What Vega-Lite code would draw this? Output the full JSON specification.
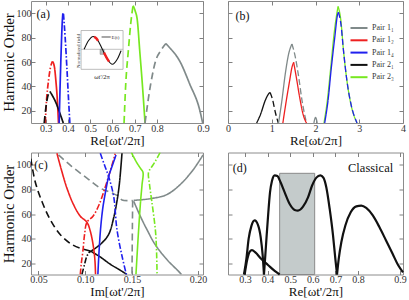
{
"$schema":"https://vega.github.io/schema/vega-lite/v6.json",
"padding":0,
"background":"white",
"config":{
 "view":{"stroke":"#8c8c8c","strokeWidth":1},
 "font":"Liberation Serif",
 "axis":{"grid":false,"domain":false,"tickColor":"#808080","tickSize":-4,"tickWidth":1,"labelPadding":4,"labelFont":"Liberation Serif","labelFontSize":10,"labelColor":"#333333","titleFont":"Liberation Serif","titleFontSize":13,"titleFontWeight":"normal","titleColor":"#111111","labelFlush":false,"labelOverlap":false},
 "axisX":{"titlePadding":1},
 "axisY":{"titlePadding":0,"titleFontSize":15},
 "text":{"font":"Liberation Serif"}
},
"datasets":{
"a":[
{"s":"r1","p":"Pair 1₂","d":"dashdot","x":0.298,"y":10},{"s":"r1","p":"Pair 1₂","d":"dashdot","x":0.3036,"y":28.2},{"s":"r1","p":"Pair 1₂","d":"dashdot","x":0.3126,"y":44.7},{"s":"r1","p":"Pair 1₂","d":"dashdot","x":0.3215,"y":55.6},{"s":"r1","p":"Pair 1₂","d":"dashdot","x":0.3305,"y":60.5},
{"s":"r2","p":"Pair 1₂","d":"solid","x":0.3305,"y":60.5},{"s":"r2","p":"Pair 1₂","d":"solid","x":0.3395,"y":55.6},{"s":"r2","p":"Pair 1₂","d":"solid","x":0.3457,"y":44.7},{"s":"r2","p":"Pair 1₂","d":"solid","x":0.3516,"y":30.9},{"s":"r2","p":"Pair 1₂","d":"solid","x":0.3574,"y":10},
{"s":"k1","p":"Pair 2₁","d":"dash","x":0.2933,"y":10},{"s":"k1","p":"Pair 2₁","d":"dash","x":0.3009,"y":22.7},{"s":"k1","p":"Pair 2₁","d":"dash","x":0.3081,"y":30.9},{"s":"k1","p":"Pair 2₁","d":"dash","x":0.3188,"y":35.9},
{"s":"k2","p":"Pair 2₁","d":"solid","x":0.3188,"y":35.9},{"s":"k2","p":"Pair 2₁","d":"solid","x":0.3305,"y":32.3},{"s":"k2","p":"Pair 2₁","d":"solid","x":0.3457,"y":26.8},{"s":"k2","p":"Pair 2₁","d":"solid","x":0.3625,"y":18.6},{"s":"k2","p":"Pair 2₁","d":"solid","x":0.379,"y":10},
{"s":"b1","p":"Pair 1₄","d":"solid","x":0.3605,"y":10},{"s":"b1","p":"Pair 1₄","d":"solid","x":0.365,"y":42},{"s":"b1","p":"Pair 1₄","d":"solid","x":0.3695,"y":69.3},{"s":"b1","p":"Pair 1₄","d":"solid","x":0.374,"y":91.3},{"s":"b1","p":"Pair 1₄","d":"solid","x":0.3771,"y":100},
{"s":"b2","p":"Pair 1₄","d":"dashdot","x":0.3798,"y":99.5},{"s":"b2","p":"Pair 1₄","d":"dashdot","x":0.3874,"y":80.3},{"s":"b2","p":"Pair 1₄","d":"dashdot","x":0.3951,"y":55.6},{"s":"b2","p":"Pair 1₄","d":"dashdot","x":0.4022,"y":30.9},{"s":"b2","p":"Pair 1₄","d":"dashdot","x":0.4085,"y":10},
{"s":"g1","p":"Pair 2₃","d":"dash","x":0.652,"y":10},{"s":"g1","p":"Pair 2₃","d":"dash","x":0.6596,"y":42},{"s":"g1","p":"Pair 2₃","d":"dash","x":0.6713,"y":69.3},{"s":"g1","p":"Pair 2₃","d":"dash","x":0.682,"y":91.5},{"s":"g1","p":"Pair 2₃","d":"dash","x":0.6924,"y":106.3},
{"s":"g2","p":"Pair 2₃","d":"solid","x":0.6924,"y":106.3},{"s":"g2","p":"Pair 2₃","d":"solid","x":0.7013,"y":102.2},{"s":"g2","p":"Pair 2₃","d":"solid","x":0.7117,"y":94},{"s":"g2","p":"Pair 2₃","d":"solid","x":0.7224,"y":69.3},{"s":"g2","p":"Pair 2₃","d":"solid","x":0.7341,"y":42},{"s":"g2","p":"Pair 2₃","d":"solid","x":0.7462,"y":10},
{"s":"e1","p":"Pair 1₁","d":"dash","x":0.7462,"y":10},{"s":"e1","p":"Pair 1₁","d":"dash","x":0.7717,"y":42},{"s":"e1","p":"Pair 1₁","d":"dash","x":0.7942,"y":61.1},{"s":"e1","p":"Pair 1₁","d":"dash","x":0.8082,"y":69.3},{"s":"e1","p":"Pair 1₁","d":"dash","x":0.8193,"y":75.1},
{"s":"e2","p":"Pair 1₁","d":"solid","x":0.8193,"y":75.1},{"s":"e2","p":"Pair 1₁","d":"solid","x":0.8267,"y":72.1},{"s":"e2","p":"Pair 1₁","d":"solid","x":0.8489,"y":61.1},{"s":"e2","p":"Pair 1₁","d":"solid","x":0.8711,"y":42},{"s":"e2","p":"Pair 1₁","d":"solid","x":0.8933,"y":20},{"s":"e2","p":"Pair 1₁","d":"solid","x":0.8993,"y":10}
],
"inset":[{"x":0.4726,"y":70.4},{"x":0.4928,"y":77.6},{"x":0.513,"y":80.9},{"x":0.5332,"y":78},{"x":0.5547,"y":70.4},{"x":0.5758,"y":62.8},{"x":0.5996,"y":58.1},{"x":0.6206,"y":62},{"x":0.6386,"y":69.3}],
"insetRed":[{"s":"h1","x":0.5175,"y":80.6},{"s":"h1","x":0.5265,"y":79.5},{"s":"h1","x":0.5354,"y":77.3},{"s":"h2","x":0.5623,"y":67.7},{"s":"h2","x":0.5735,"y":63.6},{"s":"h2","x":0.5848,"y":60.3}],
"b":[
{"s":"k1","p":"Pair 2₁","d":"solid","x":0.654,"y":10},{"s":"k1","p":"Pair 2₁","d":"solid","x":0.746,"y":17.3},{"s":"k1","p":"Pair 2₁","d":"solid","x":0.848,"y":28.2},{"s":"k1","p":"Pair 2₁","d":"solid","x":0.924,"y":33.7},{"s":"k1","p":"Pair 2₁","d":"solid","x":0.963,"y":35},
{"s":"k2","p":"Pair 2₁","d":"dash","x":0.963,"y":35},{"s":"k2","p":"Pair 2₁","d":"dash","x":1.02,"y":29},{"s":"k2","p":"Pair 2₁","d":"dash","x":1.08,"y":19},{"s":"k2","p":"Pair 2₁","d":"dash","x":1.15,"y":10},
{"s":"e1","p":"Pair 1₁","d":"solid","x":1.155,"y":10},{"s":"e1","p":"Pair 1₁","d":"solid","x":1.231,"y":28.2},{"s":"e1","p":"Pair 1₁","d":"solid","x":1.309,"y":50.2},{"s":"e1","p":"Pair 1₁","d":"solid","x":1.386,"y":66.6},{"s":"e1","p":"Pair 1₁","d":"solid","x":1.462,"y":74.8},
{"s":"e2","p":"Pair 1₁","d":"dash","x":1.462,"y":74.8},{"s":"e2","p":"Pair 1₁","d":"dash","x":1.54,"y":63.8},{"s":"e2","p":"Pair 1₁","d":"dash","x":1.617,"y":47.4},{"s":"e2","p":"Pair 1₁","d":"dash","x":1.693,"y":28.2},{"s":"e2","p":"Pair 1₁","d":"dash","x":1.794,"y":10},
{"s":"e3","p":"Pair 1₁","d":"solid","x":1.963,"y":10},{"s":"e3","p":"Pair 1₁","d":"solid","x":2.002,"y":14.5},{"s":"e3","p":"Pair 1₁","d":"solid","x":2.04,"y":10},
{"s":"r1","p":"Pair 1₂","d":"solid","x":1.254,"y":10},{"s":"r1","p":"Pair 1₂","d":"solid","x":1.332,"y":28.2},{"s":"r1","p":"Pair 1₂","d":"solid","x":1.409,"y":44.7},{"s":"r1","p":"Pair 1₂","d":"solid","x":1.462,"y":55.6},{"s":"r1","p":"Pair 1₂","d":"solid","x":1.501,"y":59.7},
{"s":"r2","p":"Pair 1₂","d":"solid","x":1.501,"y":59.7},{"s":"r2","p":"Pair 1₂","d":"solid","x":1.562,"y":47.4},{"s":"r2","p":"Pair 1₂","d":"solid","x":1.639,"y":30.9},{"s":"r2","p":"Pair 1₂","d":"solid","x":1.715,"y":17.3},{"s":"r2","p":"Pair 1₂","d":"solid","x":1.794,"y":10},
{"s":"g1","p":"Pair 2₃","d":"solid","x":2.194,"y":10},{"s":"g1","p":"Pair 2₃","d":"solid","x":2.27,"y":28.2},{"s":"g1","p":"Pair 2₃","d":"solid","x":2.349,"y":55.6},{"s":"g1","p":"Pair 2₃","d":"solid","x":2.425,"y":83.1},{"s":"g1","p":"Pair 2₃","d":"solid","x":2.487,"y":99.5},{"s":"g1","p":"Pair 2₃","d":"solid","x":2.517,"y":105.5},
{"s":"g2","p":"Pair 2₃","d":"solid","x":2.517,"y":105.5},{"s":"g2","p":"Pair 2₃","d":"solid","x":2.58,"y":94},{"s":"g2","p":"Pair 2₃","d":"solid","x":2.64,"y":69.3},{"s":"g2","p":"Pair 2₃","d":"solid","x":2.725,"y":43},{"s":"g2","p":"Pair 2₃","d":"solid","x":2.818,"y":24},{"s":"g2","p":"Pair 2₃","d":"solid","x":2.949,"y":10},
{"s":"b1","p":"Pair 1₄","d":"solid","x":2.21,"y":10},{"s":"b1","p":"Pair 1₄","d":"solid","x":2.286,"y":28.2},{"s":"b1","p":"Pair 1₄","d":"solid","x":2.363,"y":55.6},{"s":"b1","p":"Pair 1₄","d":"solid","x":2.441,"y":80.3},{"s":"b1","p":"Pair 1₄","d":"solid","x":2.501,"y":98.2},{"s":"b1","p":"Pair 1₄","d":"solid","x":2.524,"y":100.8},
{"s":"b2","p":"Pair 1₄","d":"dash","x":2.524,"y":100.8},{"s":"b2","p":"Pair 1₄","d":"dash","x":2.58,"y":91.3},{"s":"b2","p":"Pair 1₄","d":"dash","x":2.64,"y":69.3},{"s":"b2","p":"Pair 1₄","d":"dash","x":2.718,"y":44.7},{"s":"b2","p":"Pair 1₄","d":"dash","x":2.811,"y":25.5},{"s":"b2","p":"Pair 1₄","d":"dash","x":2.949,"y":10}
],
"c":[
{"s":"e1","p":"Pair 1₁","d":"dash","x":0.0714,"y":108},{"s":"e1","p":"Pair 1₁","d":"dash","x":0.0857,"y":98.6},{"s":"e1","p":"Pair 1₁","d":"dash","x":0.1018,"y":89.2},{"s":"e1","p":"Pair 1₁","d":"dash","x":0.1161,"y":81.1},{"s":"e1","p":"Pair 1₁","d":"dash","x":0.1286,"y":77.1},{"s":"e1","p":"Pair 1₁","d":"dash","x":0.1357,"y":74.4},{"s":"e1","p":"Pair 1₁","d":"dash","x":0.1393,"y":71.5},{"s":"e1","p":"Pair 1₁","d":"dash","x":0.1505,"y":71},
{"s":"e2","p":"Pair 1₁","d":"dash","x":0.1505,"y":71},{"s":"e2","p":"Pair 1₁","d":"dash","x":0.1503,"y":50},{"s":"e2","p":"Pair 1₁","d":"dash","x":0.15,"y":11},
{"s":"e3","p":"Pair 1₁","d":"solid","x":0.1513,"y":71.2},{"s":"e3","p":"Pair 1₁","d":"solid","x":0.1638,"y":72.5},{"s":"e3","p":"Pair 1₁","d":"solid","x":0.1763,"y":75.8},{"s":"e3","p":"Pair 1₁","d":"solid","x":0.1863,"y":83.8},{"s":"e3","p":"Pair 1₁","d":"solid","x":0.1963,"y":95.9},{"s":"e3","p":"Pair 1₁","d":"solid","x":0.2038,"y":108},
{"s":"e4","p":"Pair 1₁","d":"solid","x":0.1513,"y":70.4},{"s":"e4","p":"Pair 1₁","d":"solid","x":0.1563,"y":58.3},{"s":"e4","p":"Pair 1₁","d":"solid","x":0.1613,"y":47.5},{"s":"e4","p":"Pair 1₁","d":"solid","x":0.1675,"y":35.4},{"s":"e4","p":"Pair 1₁","d":"solid","x":0.1763,"y":23.3},{"s":"e4","p":"Pair 1₁","d":"solid","x":0.185,"y":13.9},{"s":"e4","p":"Pair 1₁","d":"solid","x":0.1875,"y":11},
{"s":"k1","p":"Pair 2₁","d":"dash","x":0.0418,"y":105},{"s":"k1","p":"Pair 2₁","d":"dash","x":0.0464,"y":86.5},{"s":"k1","p":"Pair 2₁","d":"dash","x":0.0536,"y":70.4},{"s":"k1","p":"Pair 2₁","d":"dash","x":0.0625,"y":55.6},{"s":"k1","p":"Pair 2₁","d":"dash","x":0.0732,"y":43.5},{"s":"k1","p":"Pair 2₁","d":"dash","x":0.0857,"y":35.4},{"s":"k1","p":"Pair 2₁","d":"dash","x":0.0982,"y":31.4},{"s":"k1","p":"Pair 2₁","d":"dash","x":0.1054,"y":30.1},
{"s":"k2","p":"Pair 2₁","d":"solid","x":0.1054,"y":30.1},{"s":"k2","p":"Pair 2₁","d":"solid","x":0.1161,"y":25.2},{"s":"k2","p":"Pair 2₁","d":"solid","x":0.1268,"y":19.3},{"s":"k2","p":"Pair 2₁","d":"solid","x":0.1357,"y":15.3},{"s":"k2","p":"Pair 2₁","d":"solid","x":0.1445,"y":11},
{"s":"k3","p":"Pair 2₁","d":"solid","x":0.1036,"y":28.7},{"s":"k3","p":"Pair 2₁","d":"solid","x":0.1161,"y":35.4},{"s":"k3","p":"Pair 2₁","d":"solid","x":0.125,"y":43.5},{"s":"k3","p":"Pair 2₁","d":"solid","x":0.1304,"y":57},{"s":"k3","p":"Pair 2₁","d":"solid","x":0.1339,"y":70.4},{"s":"k3","p":"Pair 2₁","d":"solid","x":0.1364,"y":83.8},{"s":"k3","p":"Pair 2₁","d":"solid","x":0.1393,"y":109.4},
{"s":"k4","p":"Pair 2₁","d":"dashdot","x":0.0964,"y":11},{"s":"k4","p":"Pair 2₁","d":"dashdot","x":0.0993,"y":19.3},{"s":"k4","p":"Pair 2₁","d":"dashdot","x":0.1018,"y":26},{"s":"k4","p":"Pair 2₁","d":"dashdot","x":0.1054,"y":30.1},
{"s":"r1","p":"Pair 1₂","d":"solid","x":0.0697,"y":109.4},{"s":"r1","p":"Pair 1₂","d":"solid","x":0.075,"y":94.6},{"s":"r1","p":"Pair 1₂","d":"solid","x":0.0804,"y":81.1},{"s":"r1","p":"Pair 1₂","d":"solid","x":0.0875,"y":67.7},{"s":"r1","p":"Pair 1₂","d":"solid","x":0.0947,"y":58.3},{"s":"r1","p":"Pair 1₂","d":"solid","x":0.1018,"y":53.4},{"s":"r1","p":"Pair 1₂","d":"solid","x":0.1054,"y":46.2},{"s":"r1","p":"Pair 1₂","d":"solid","x":0.1089,"y":32.7},{"s":"r1","p":"Pair 1₂","d":"solid","x":0.1104,"y":22},{"s":"r1","p":"Pair 1₂","d":"solid","x":0.111,"y":11},
{"s":"r2","p":"Pair 1₂","d":"dashdot","x":0.0947,"y":11},{"s":"r2","p":"Pair 1₂","d":"dashdot","x":0.0957,"y":19.3},{"s":"r2","p":"Pair 1₂","d":"dashdot","x":0.0975,"y":30.1},{"s":"r2","p":"Pair 1₂","d":"dashdot","x":0.0993,"y":43.5},{"s":"r2","p":"Pair 1₂","d":"dashdot","x":0.1018,"y":53.4},{"s":"r2","p":"Pair 1₂","d":"dashdot","x":0.1085,"y":58.5},{"s":"r2","p":"Pair 1₂","d":"dashdot","x":0.115,"y":68},{"s":"r2","p":"Pair 1₂","d":"dashdot","x":0.121,"y":81},{"s":"r2","p":"Pair 1₂","d":"dashdot","x":0.1255,"y":92},{"s":"r2","p":"Pair 1₂","d":"dashdot","x":0.1292,"y":101.3},{"s":"r2","p":"Pair 1₂","d":"dashdot","x":0.132,"y":109},
{"s":"b1","p":"Pair 1₄","d":"solid","x":0.1135,"y":11},{"s":"b1","p":"Pair 1₄","d":"solid","x":0.1148,"y":30.1},{"s":"b1","p":"Pair 1₄","d":"solid","x":0.1165,"y":48.9},{"s":"b1","p":"Pair 1₄","d":"solid","x":0.1188,"y":65},{"s":"b1","p":"Pair 1₄","d":"solid","x":0.1221,"y":79.8},{"s":"b1","p":"Pair 1₄","d":"solid","x":0.125,"y":90.5},{"s":"b1","p":"Pair 1₄","d":"solid","x":0.1286,"y":98.6},{"s":"b1","p":"Pair 1₄","d":"solid","x":0.1329,"y":108},
{"s":"b2","p":"Pair 1₄","d":"dashdot","x":0.1161,"y":109.4},{"s":"b2","p":"Pair 1₄","d":"dashdot","x":0.1205,"y":100},{"s":"b2","p":"Pair 1₄","d":"dashdot","x":0.125,"y":90.5},{"s":"b2","p":"Pair 1₄","d":"dashdot","x":0.1304,"y":74.4},{"s":"b2","p":"Pair 1₄","d":"dashdot","x":0.1339,"y":47.5},{"s":"b2","p":"Pair 1₄","d":"dashdot","x":0.1393,"y":26},{"s":"b2","p":"Pair 1₄","d":"dashdot","x":0.144,"y":11},
{"s":"g1","p":"Pair 2₃","d":"solid","x":0.1493,"y":110},{"s":"g1","p":"Pair 2₃","d":"solid","x":0.1535,"y":102},{"s":"g1","p":"Pair 2₃","d":"solid","x":0.1565,"y":97},{"s":"g1","p":"Pair 2₃","d":"solid","x":0.1583,"y":94},{"s":"g1","p":"Pair 2₃","d":"solid","x":0.1576,"y":83.8},{"s":"g1","p":"Pair 2₃","d":"solid","x":0.1565,"y":70.4},{"s":"g1","p":"Pair 2₃","d":"solid","x":0.1548,"y":43.5},{"s":"g1","p":"Pair 2₃","d":"solid","x":0.153,"y":11},
{"s":"g2","p":"Pair 2₃","d":"dashdot","x":0.1713,"y":110},{"s":"g2","p":"Pair 2₃","d":"dashdot","x":0.1675,"y":102.6},{"s":"g2","p":"Pair 2₃","d":"dashdot","x":0.1643,"y":97.3},{"s":"g2","p":"Pair 2₃","d":"dashdot","x":0.1625,"y":94},{"s":"g2","p":"Pair 2₃","d":"dashdot","x":0.1633,"y":83.8},{"s":"g2","p":"Pair 2₃","d":"dashdot","x":0.165,"y":70.4},{"s":"g2","p":"Pair 2₃","d":"dashdot","x":0.168,"y":43.5},{"s":"g2","p":"Pair 2₃","d":"dashdot","x":0.169,"y":11}
],
"d":[
{"s":"L1","x":0.2956,"y":11},{"s":"L1","x":0.3062,"y":23.5},{"s":"L1","x":0.3164,"y":40.1},{"s":"L1","x":0.3283,"y":50.3},{"s":"L1","x":0.3429,"y":54.9},{"s":"L1","x":0.3575,"y":51.3},{"s":"L1","x":0.3695,"y":41.4},{"s":"L1","x":0.3783,"y":26.7},{"s":"L1","x":0.3841,"y":11},
{"s":"L2","x":0.2987,"y":11},{"s":"L2","x":0.3106,"y":23.5},{"s":"L2","x":0.3208,"y":29.4},{"s":"L2","x":0.331,"y":30.7},{"s":"L2","x":0.346,"y":28.9},{"s":"L2","x":0.3726,"y":23.5},{"s":"L2","x":0.4018,"y":18.7},{"s":"L2","x":0.4314,"y":13.9},{"s":"L2","x":0.4535,"y":11},
{"s":"M","x":0.3841,"y":11},{"s":"M","x":0.3901,"y":26.7},{"s":"M","x":0.396,"y":42.8},{"s":"M","x":0.4034,"y":61.5},{"s":"M","x":0.4108,"y":77.6},{"s":"M","x":0.4196,"y":87},{"s":"M","x":0.4314,"y":91.5},{"s":"M","x":0.4432,"y":91},{"s":"M","x":0.458,"y":85.6},{"s":"M","x":0.4757,"y":77.6},{"s":"M","x":0.4978,"y":68.2},{"s":"M","x":0.5199,"y":63.4},{"s":"M","x":0.5346,"y":62.9},{"s":"M","x":0.5568,"y":66.1},{"s":"M","x":0.5789,"y":73.6},{"s":"M","x":0.5966,"y":83},{"s":"M","x":0.6158,"y":89.6},{"s":"M","x":0.6335,"y":91.5},{"s":"M","x":0.6468,"y":89.6},{"s":"M","x":0.66,"y":81.6},{"s":"M","x":0.6748,"y":64.2},{"s":"M","x":0.6895,"y":42.8},{"s":"M","x":0.6999,"y":23.5},{"s":"M","x":0.7072,"y":11},
{"s":"R","x":0.7072,"y":11},{"s":"R","x":0.7146,"y":23.5},{"s":"R","x":0.7264,"y":37.4},{"s":"R","x":0.7441,"y":50.8},{"s":"R","x":0.7677,"y":61.5},{"s":"R","x":0.7928,"y":66.3},{"s":"R","x":0.8079,"y":66.9},{"s":"R","x":0.8196,"y":65},{"s":"R","x":0.8352,"y":58.9},{"s":"R","x":0.8508,"y":49.5},{"s":"R","x":0.8664,"y":38.8},{"s":"R","x":0.882,"y":28},{"s":"R","x":0.8953,"y":18.7},{"s":"R","x":0.907,"y":12.8}
]
},
"resolve":{"scale":{"color":"independent","strokeDash":"independent"}},
"bounds":"flush",
"columns":2,
"spacing":{"row":29.5,"column":25},
"concat":[
 {"width":172,"height":122,
  "resolve":{"axis":{"x":"independent","y":"independent"}},
  "layer":[
    {"data":{"name":"a"},"transform":[{"window":[{"op":"row_number","as":"o"}]}],
     "mark":{"type":"line","strokeWidth":1.7,"interpolate":"monotone"},
     "encoding":{
      "x":{"field":"x","type":"quantitative","scale":{"domain":[0.234,0.8,0.9],"range":[0,126,172],"nice":false,"zero":false},"axis":{"title":"Re[ωt'/2π]","values":[0.3,0.4,0.5,0.6,0.7,0.8,0.9],"format":".1f","labelOverlap":false}},
      "y":{"field":"y","type":"quantitative","scale":{"domain":[10,110],"nice":false,"zero":false},"axis":{"title":"Harmonic Order","values":[20,40,60,80,100],"labelOverlap":false}},
      "color":{"field":"p","type":"nominal","scale":{"domain":["Pair 1₁","Pair 1₂","Pair 1₄","Pair 2₁","Pair 2₃"],"range":["#808a8a","#ee2020","#2020ee","#111111","#77e820"]},"legend":null},
      "strokeDash":{"field":"d","type":"nominal","scale":{"domain":["solid","dash","dashdot"],"range":[[1,0],[7,4],[6,2,1.5,2]]},"legend":null},
      "detail":{"field":"s"},
      "order":{"field":"o","type":"quantitative"}}},
    {"data":{"values":[{}]},"mark":{"type":"rect","fill":"white","stroke":"#a0a0a0","strokeWidth":0.7},
     "encoding":{"x":{"datum":0.459,"type":"quantitative","axis":null},"x2":{"datum":0.6475},"y":{"datum":54,"type":"quantitative","axis":null},"y2":{"datum":85.8}}},
    {"data":{"values":[{}]},"mark":{"type":"rule","color":"#a8a8a8","strokeWidth":0.7},
     "encoding":{"x":{"datum":0.459,"type":"quantitative","axis":null},"x2":{"datum":0.6475},"y":{"datum":70.4,"type":"quantitative","axis":null}}},
    {"data":{"values":[{}]},"mark":{"type":"rect","fill":"#b4bcbc","stroke":"#777777","strokeWidth":0.5},
     "encoding":{"x":{"datum":0.5444,"type":"quantitative","axis":null},"x2":{"datum":0.5623},"y":{"datum":66.3,"type":"quantitative","axis":null},"y2":{"datum":70.4}}},
    {"data":{"name":"inset"},"mark":{"type":"line","color":"#111111","strokeWidth":1.1,"interpolate":"monotone"},
     "encoding":{"x":{"field":"x","type":"quantitative","axis":null},"y":{"field":"y","type":"quantitative","axis":null}}},
    {"data":{"name":"insetRed"},"mark":{"type":"line","color":"#ee2020","strokeWidth":2.4,"interpolate":"monotone"},
     "encoding":{"x":{"field":"x","type":"quantitative","axis":null},"y":{"field":"y","type":"quantitative","axis":null},"detail":{"field":"s"}}},
    {"data":{"values":[{}]},"mark":{"type":"rule","color":"#8a8a8a","strokeWidth":1.5},
     "encoding":{"x":{"datum":0.551,"type":"quantitative","axis":null},"x2":{"datum":0.592},"y":{"datum":80.5,"type":"quantitative","axis":null}}},
    {"data":{"values":[{}]},"mark":{"type":"text","text":"E(t)","fontSize":5,"align":"left","color":"#333333"},
     "encoding":{"x":{"datum":0.596,"type":"quantitative","axis":null},"y":{"datum":80.5,"type":"quantitative","axis":null}}},
    {"data":{"values":[{}]},"mark":{"type":"text","text":"ωt'/2π","fontSize":6.5,"color":"#222222"},
     "encoding":{"x":{"datum":0.5534,"type":"quantitative","axis":null},"y":{"datum":47.5,"type":"quantitative","axis":null}}},
    {"data":{"values":[{}]},"mark":{"type":"text","text":"Normalized field","fontSize":5,"angle":270,"color":"#333333"},
     "encoding":{"x":{"datum":0.4445,"type":"quantitative","axis":null},"y":{"datum":69,"type":"quantitative","axis":null}}},
    {"data":{"values":[{}]},"mark":{"type":"text","text":"(a)","fontSize":12,"color":"#111111"},
     "encoding":{"x":{"datum":0.289,"type":"quantitative","axis":{"orient":"top","labels":false,"title":null,"values":[0.3,0.4,0.5,0.6,0.7,0.8,0.9]}},
                 "y":{"datum":99,"type":"quantitative","axis":{"orient":"right","labels":false,"title":null,"values":[20,40,60,80,100]}}}}
  ]},
 {"width":175,"height":122,
  "resolve":{"axis":{"x":"independent","y":"independent"}},
  "layer":[
   {"data":{"name":"b"},"transform":[{"window":[{"op":"row_number","as":"o"}]}],
    "mark":{"type":"line","strokeWidth":1.3,"interpolate":"monotone"},
    "encoding":{
     "x":{"field":"x","type":"quantitative","scale":{"domain":[0,4],"nice":false,"zero":false},"axis":{"title":"Re[ωt/2π]","values":[0,1,2,3,4],"format":"d","labelOverlap":false}},
     "y":{"field":"y","type":"quantitative","scale":{"domain":[10,110],"nice":false,"zero":false},"axis":{"title":null,"labels":false,"values":[20,40,60,80,100]}},
     "color":{"field":"p","type":"nominal","scale":{"domain":["Pair 1₁","Pair 1₂","Pair 1₄","Pair 2₁","Pair 2₃"],"range":["#808a8a","#ee2020","#2020ee","#111111","#77e820"]},
       "legend":{"orient":"none","legendX":125,"legendY":21,"title":null,"padding":0,"symbolType":"M-1.7,0H1.7","symbolSize":100,"symbolStrokeWidth":2,"labelFontSize":8,"labelFont":"Liberation Serif","labelColor":"#333333","rowPadding":2.3,"labelOffset":7}},
     "strokeDash":{"field":"d","type":"nominal","scale":{"domain":["solid","dash","dashdot"],"range":[[1,0],[6,3],[6,2,1.5,2]]},"legend":null},
     "detail":{"field":"s"},
     "order":{"field":"o","type":"quantitative"}}},
   {"data":{"values":[{}]},"mark":{"type":"text","text":"(b)","fontSize":12,"color":"#111111"},
    "encoding":{"x":{"datum":0.33,"type":"quantitative","axis":{"orient":"top","labels":false,"title":null,"values":[0,1,2,3,4]}},
                "y":{"datum":98,"type":"quantitative","axis":{"orient":"right","labels":false,"title":null,"values":[20,40,60,80,100]}}}}
  ]},
 {"width":172,"height":122,
  "resolve":{"axis":{"x":"independent","y":"independent"}},
  "layer":[
   {"data":{"name":"c"},"transform":[{"window":[{"op":"row_number","as":"o"}]}],
    "mark":{"type":"line","strokeWidth":1.6,"interpolate":"catmull-rom","clip":true},
    "encoding":{
     "x":{"field":"x","type":"quantitative","scale":{"domain":[0.042,0.15,0.2038],"range":[0,101,172],"nice":false,"zero":false},"axis":{"title":"Im[ωt'/2π]","values":[0.05,0.1,0.15,0.2],"format":".2f","labelOverlap":false}},
     "y":{"field":"y","type":"quantitative","scale":{"domain":[11,110],"nice":false,"zero":false},"axis":{"title":"Harmonic Order","values":[20,40,60,80,100],"labelOverlap":false}},
     "color":{"field":"p","type":"nominal","scale":{"domain":["Pair 1₁","Pair 1₂","Pair 1₄","Pair 2₁","Pair 2₃"],"range":["#808a8a","#ee2020","#2020ee","#111111","#77e820"]},"legend":null},
     "strokeDash":{"field":"d","type":"nominal","scale":{"domain":["solid","dash","dashdot"],"range":[[1,0],[7,4],[6,2,1.5,2]]},"legend":null},
     "detail":{"field":"s"},
     "order":{"field":"o","type":"quantitative"}}},
   {"data":{"values":[{}]},"mark":{"type":"text","text":"(c)","fontSize":12,"color":"#111111"},
    "encoding":{"x":{"datum":0.0527,"type":"quantitative","axis":{"orient":"top","labels":false,"title":null,"values":[0.05,0.1,0.15,0.2]}},
                "y":{"datum":100,"type":"quantitative","axis":{"orient":"right","labels":false,"title":null,"values":[20,40,60,80,100]}}}}
  ]},
 {"width":175,"height":122,
  "resolve":{"axis":{"x":"independent","y":"independent"}},
  "layer":[
    {"data":{"values":[{}]},"mark":{"type":"rect","fill":"#c4cbcb","stroke":"#8a8a8a","strokeWidth":1},
     "encoding":{"x":{"datum":0.4535,"type":"quantitative","axis":null},"x2":{"datum":0.6084},"y":{"datum":11,"type":"quantitative","axis":null},"y2":{"datum":93.1}}},
    {"data":{"name":"d"},"transform":[{"window":[{"op":"row_number","as":"o"}]}],
     "mark":{"type":"line","strokeWidth":2.2,"color":"#111111","interpolate":"monotone"},
     "encoding":{
      "x":{"field":"x","type":"quantitative","scale":{"domain":[0.225,0.8,0.907],"range":[0,130,175],"nice":false,"zero":false},"axis":{"title":"Re[ωt'/2π]","values":[0.3,0.4,0.5,0.6,0.7,0.8,0.9],"format":".1f","labelOverlap":false}},
      "y":{"field":"y","type":"quantitative","scale":{"domain":[11,110],"nice":false,"zero":false},"axis":{"title":null,"labels":false,"values":[20,40,60,80,100]}},
      "detail":{"field":"s"},
      "order":{"field":"o","type":"quantitative"}}},
    {"data":{"values":[{}]},"mark":{"type":"text","text":"Classical","fontSize":12.5,"align":"right","color":"#111111"},
     "encoding":{"x":{"datum":0.8836,"type":"quantitative","axis":null},"y":{"datum":97.7,"type":"quantitative","axis":null}}},
    {"data":{"values":[{}]},"mark":{"type":"text","text":"(d)","fontSize":12,"color":"#111111"},
     "encoding":{"x":{"datum":0.2765,"type":"quantitative","axis":{"orient":"top","labels":false,"title":null,"values":[0.3,0.4,0.5,0.6,0.7,0.8,0.9]}},
                 "y":{"datum":97.7,"type":"quantitative","axis":{"orient":"right","labels":false,"title":null,"values":[20,40,60,80,100]}}}}
  ]}
]
}
